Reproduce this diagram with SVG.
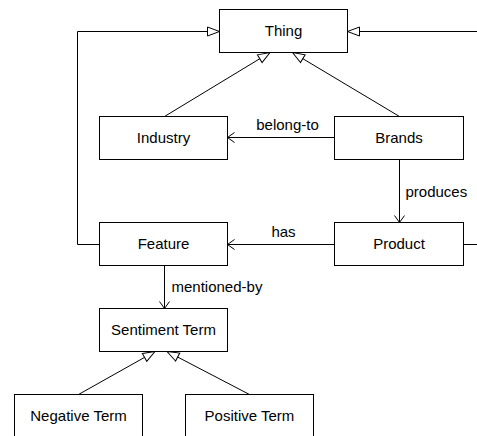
<svg xmlns="http://www.w3.org/2000/svg" width="477" height="436" viewBox="0 0 477 436">
<defs>
<style>
.box{fill:#fff;stroke:#000;stroke-width:1}
.lbl{font-family:"Liberation Sans",Arial,sans-serif;font-size:15px;fill:#000}
.c{text-anchor:middle}
.e{fill:none;stroke:#000;stroke-width:1}
</style>
<marker id="tri" markerUnits="userSpaceOnUse" markerWidth="14" markerHeight="12" refX="12.5" refY="5" orient="auto" overflow="visible">
<path d="M0.5,0.5 L12.5,5 L0.5,9.5 Z" fill="#fff" stroke="#000" stroke-width="1"/>
</marker>
<marker id="open" markerUnits="userSpaceOnUse" markerWidth="10" markerHeight="12" refX="7" refY="5" orient="auto" overflow="visible">
<path d="M0,0 L7,5 L0,10" fill="none" stroke="#000" stroke-width="1"/>
</marker>
</defs>
<rect width="477" height="436" fill="#fff"/>
<g id="connectors">
<path class="e" d="M99.5,244.5 H77.5 V31.5 H219.5" marker-end="url(#tri)"/>
<path class="e" d="M477,31.5 H347.5" marker-end="url(#tri)"/>
<path class="e" d="M463.5,244.5 H477"/>
<path class="e" d="M164.5,116.5 L270,52.5" marker-end="url(#tri)"/>
<path class="e" d="M399.5,116.5 L292.5,52.5" marker-end="url(#tri)"/>
<path class="e" d="M334.5,137.5 H227.5" marker-end="url(#open)"/>
<text class="lbl c" x="287.5" y="129.5">belong-to</text>
<path class="e" d="M399.5,159.5 V222.5" marker-end="url(#open)"/>
<text class="lbl" x="405.5" y="196.5">produces</text>
<path class="e" d="M334.5,244.5 H227.5" marker-end="url(#open)"/>
<text class="lbl c" x="283.5" y="236.5">has</text>
<path class="e" d="M164.5,265.5 V308.5" marker-end="url(#open)"/>
<text class="lbl" x="171.5" y="291.5">mentioned-by</text>
<path class="e" d="M78.5,394.5 L155,351.5" marker-end="url(#tri)"/>
<path class="e" d="M249.5,394.5 L167,351.5" marker-end="url(#tri)"/>
</g>
<g id="thing"><rect class="box" x="219.5" y="9.5" width="128" height="43"/><text class="lbl c" x="283.5" y="36">Thing</text></g>
<g id="industry"><rect class="box" x="99.5" y="116.5" width="128" height="43"/><text class="lbl c" x="163.5" y="142.5">Industry</text></g>
<g id="brands"><rect class="box" x="334.5" y="116.5" width="129" height="43"/><text class="lbl c" x="399" y="142.5">Brands</text></g>
<g id="feature"><rect class="box" x="99.5" y="222.5" width="128" height="43"/><text class="lbl c" x="163.5" y="249">Feature</text></g>
<g id="product"><rect class="box" x="334.5" y="222.5" width="129" height="43"/><text class="lbl c" x="399" y="249">Product</text></g>
<g id="sentiment"><rect class="box" x="99.5" y="308.5" width="128" height="43"/><text class="lbl c" x="163.5" y="335">Sentiment Term</text></g>
<g id="negative"><rect class="box" x="14.5" y="394.5" width="128" height="50"/><text class="lbl c" x="78.5" y="420.5">Negative Term</text></g>
<g id="positive"><rect class="box" x="185.5" y="394.5" width="128" height="50"/><text class="lbl c" x="249.5" y="420.5">Positive Term</text></g>
</svg>
